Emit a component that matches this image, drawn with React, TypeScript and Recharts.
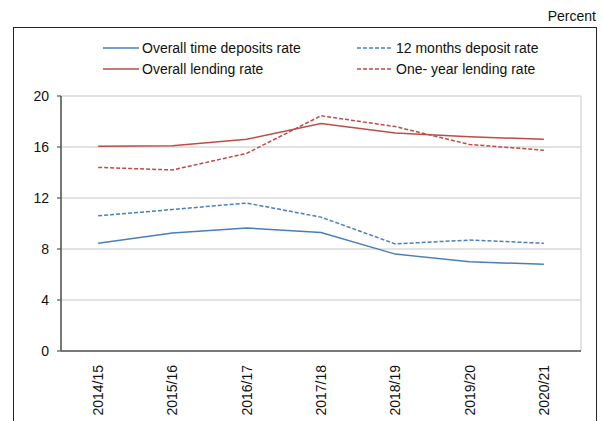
import { LineChart, Line, XAxis, YAxis, CartesianGrid, Legend } from "recharts";

const years = ["2014/15", "2015/16", "2016/17", "2017/18", "2018/19", "2019/20", "2020/21"];
const seriesNames = [
  "Overall time deposits rate",
  "12 months deposit rate",
  "Overall lending rate",
  "One- year lending rate",
];
const timeDeposits = [8.45, 9.25, 9.65, 9.3, 7.6, 7.0, 6.8];
const twelveMonthDeposit = [10.6, 11.1, 11.6, 10.5, 8.4, 8.7, 8.45];
const overallLending = [16.05, 16.1, 16.6, 17.85, 17.1, 16.8, 16.6];
const oneYearLending = [14.4, 14.2, 15.5, 18.45, 17.6, 16.2, 15.75];
const yTicks = [0, 4, 8, 12, 16, 20];

const BLUE = "#4a7ebb";
const RED = "#be4b48";
const FONT = "'Liberation Sans', Arial, Helvetica, sans-serif";

const data = years.map((year, i) => ({
  year,
  timeDeposits: timeDeposits[i],
  twelveMonthDeposit: twelveMonthDeposit[i],
  overallLending: overallLending[i],
  oneYearLending: oneYearLending[i],
}));

const boundaryTicks = years.map((_, i) => i).concat(years.length);

function LegendBox({ payload }: any) {
  const items = [...(payload || [])].sort(
    (a: any, b: any) => seriesNames.indexOf(a.value) - seriesNames.indexOf(b.value)
  );
  return (
    <div
      style={{
        display: "grid",
        gridTemplateColumns: "254px 220px",
        rowGap: 3,
        fontFamily: FONT,
        fontSize: 14,
        color: "#111",
      }}
    >
      {items.map((item: any) => (
        <div key={item.value} style={{ display: "flex", alignItems: "center", height: 18 }}>
          <svg width={38} height={4} style={{ marginRight: 2 }}>
            <line
              x1={1}
              x2={37}
              y1={2}
              y2={2}
              stroke={item.color}
              strokeWidth={1.5}
              strokeDasharray={item.payload?.strokeDasharray}
            />
          </svg>
          <span>{item.value}</span>
        </div>
      ))}
    </div>
  );
}

function YearTick({ x, y, payload }: any) {
  return (
    <text
      x={x}
      y={y + 6}
      transform={`rotate(-90, ${x}, ${y + 6})`}
      textAnchor="end"
      dominantBaseline="central"
      fontFamily={FONT}
      fontSize={14}
      fill="#111"
    >
      {payload.value}
    </text>
  );
}

export default function App() {
  return (
    <div style={{ position: "absolute", left: 0, top: 0, width: 603, height: 421, background: "#fff", overflow: "hidden" }}>
      <div
        style={{
          position: "absolute",
          right: 7,
          top: 8,
          fontFamily: FONT,
          fontSize: 14,
          color: "#111",
        }}
      >
        Percent
      </div>
      <div
        style={{
          position: "absolute",
          left: 13,
          top: 27,
          width: 582,
          height: 420,
          border: "1.5px solid #222",
        }}
      />
      <div style={{ position: "absolute", left: 0, top: 0 }}>
        <LineChart
          width={603}
          height={421}
          data={data}
          margin={{ top: 96, right: 22, bottom: 0, left: 21 }}
        >
          <CartesianGrid
            stroke="#d9d9d9"
            strokeWidth={1.5}
            xAxisId="edges"
            yAxisId="rate"
          />
          <XAxis
            xAxisId="edges"
            type="number"
            domain={[0, years.length]}
            ticks={boundaryTicks}
            tick={false}
            height={0}
            axisLine={false}
            tickLine={{ stroke: "#555", strokeWidth: 1.2 }}
            tickSize={4}
          />
          <XAxis
            xAxisId="cat"
            dataKey="year"
            scale="band"
            height={70}
            interval={0}
            tickLine={false}
            axisLine={{ stroke: "#555", strokeWidth: 1.5 }}
            tick={<YearTick />}
          />
          <YAxis
            yAxisId="rate"
            width={40}
            domain={[0, 20]}
            ticks={yTicks}
            interval={0}
            axisLine={{ stroke: "#555", strokeWidth: 1.5 }}
            tickLine={{ stroke: "#555", strokeWidth: 1.2 }}
            tickSize={4}
            tickMargin={8}
            tick={{ fontFamily: FONT, fontSize: 14, fill: "#111" }}
          />
          <Legend
            layout="horizontal"
            verticalAlign="middle"
            align="center"
            content={<LegendBox />}
            wrapperStyle={{ position: "absolute", left: 102, top: 39, width: 480 }}
          />
          <Line
            xAxisId="cat"
            yAxisId="rate"
            name={seriesNames[0]}
            dataKey="timeDeposits"
            stroke={BLUE}
            strokeWidth={1.5}
            dot={false}
            isAnimationActive={false}
          />
          <Line
            xAxisId="cat"
            yAxisId="rate"
            name={seriesNames[1]}
            dataKey="twelveMonthDeposit"
            stroke={BLUE}
            strokeWidth={1.5}
            strokeDasharray="4 2"
            dot={false}
            isAnimationActive={false}
          />
          <Line
            xAxisId="cat"
            yAxisId="rate"
            name={seriesNames[2]}
            dataKey="overallLending"
            stroke={RED}
            strokeWidth={1.5}
            dot={false}
            isAnimationActive={false}
          />
          <Line
            xAxisId="cat"
            yAxisId="rate"
            name={seriesNames[3]}
            dataKey="oneYearLending"
            stroke={RED}
            strokeWidth={1.5}
            strokeDasharray="4 2"
            dot={false}
            isAnimationActive={false}
          />
        </LineChart>
      </div>
    </div>
  );
}
